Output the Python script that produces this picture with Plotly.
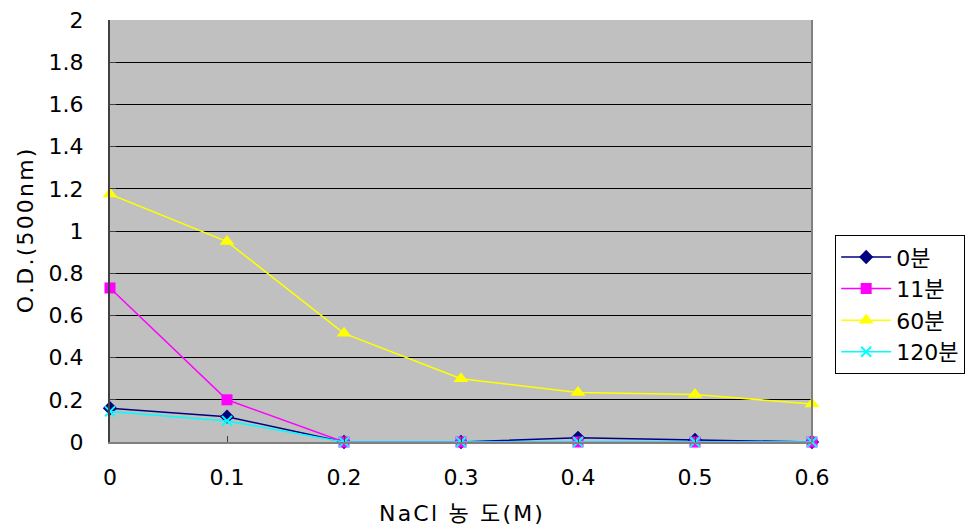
import plotly.graph_objects as go

# NaCl concentration (M) and optical density at 500 nm for each time point
nacl = [0, 0.1, 0.2, 0.3, 0.4, 0.5, 0.6]
x_tick_labels = ["0", "0.1", "0.2", "0.3", "0.4", "0.5", "0.6"]
od_0min = [0.16, 0.12, 0.0, 0.0, 0.02, 0.01, 0.0]
od_11min = [0.73, 0.20, 0.0, 0.0, 0.0, 0.0, 0.0]
od_60min = [1.175, 0.95, 0.515, 0.30, 0.235, 0.225, 0.18]
od_120min = [0.145, 0.10, 0.0, 0.0, 0.0, 0.0, 0.0]
y_ticks = [0, 0.2, 0.4, 0.6, 0.8, 1, 1.2, 1.4, 1.6, 1.8, 2]
y_tick_labels = ["0", "0.2", "0.4", "0.6", "0.8", "1", "1.2", "1.4", "1.6", "1.8", "2"]

FONT = "DejaVu Sans, Noto Sans CJK KR"
FS = 22
HS = "\u200a"  # hair space for slightly looser title lettering


def spaced(text):
    return HS.join(text)


series = [
    ("0분", od_0min, "#000080", dict(symbol="diamond", size=11)),
    ("11분", od_11min, "#FF00FF", dict(symbol="square", size=11)),
    ("60분", od_60min, "#FFFF00", dict(symbol="triangle-up", size=13)),
    ("120분", od_120min, "#00FFFF", dict(symbol="x-thin", size=10,
                                         line=dict(width=2, color="#00FFFF"))),
]

fig = go.Figure()
for name, vals, color, marker in series:
    m = dict(color=color, **marker)
    fig.add_trace(go.Scatter(
        x=nacl, y=vals, name=name, mode="lines+markers",
        legendgroup=name,
        line=dict(color=color, width=1.5),
        marker=m, cliponaxis=False,
    ))

fig.update_layout(
    width=977, height=526,
    margin=dict(l=110, r=165, t=20, b=84, autoexpand=False),
    paper_bgcolor="white",
    plot_bgcolor="#C0C0C0",
    font=dict(family=FONT, size=FS, color="#000000"),
    showlegend=True,
    legend=dict(
        x=1.033, y=0.49, xanchor="left", yanchor="top",
        bgcolor="white", bordercolor="#000000", borderwidth=1,
        font=dict(family=FONT, size=FS),
        tracegroupgap=0, itemwidth=50,
    ),
    xaxis=dict(
        range=[0, 0.6], tickvals=nacl, ticktext=x_tick_labels,
        automargin=False,
        showgrid=False, zeroline=False,
        showline=True, linecolor="#808080", linewidth=2,
        ticks="inside", ticklen=6, tickcolor="#404040",
        mirror=False,
        title=dict(text=spaced("NaCl 농 도(M)"), font=dict(family=FONT, size=FS), standoff=16),
        tickfont=dict(family=FONT, size=FS),
        ticklabelstandoff=15,
    ),
    yaxis=dict(
        range=[0, 2], tickvals=y_ticks, ticktext=y_tick_labels,
        automargin=False,
        showgrid=True, gridcolor="#000000", gridwidth=1,
        zeroline=False,
        showline=True, linecolor="#404040", linewidth=2,
        ticks="inside", ticklen=6, tickcolor="#404040",
        title=dict(text=spaced("O.D.(500nm)"), font=dict(family=FONT, size=FS), standoff=9),
        tickfont=dict(family=FONT, size=FS),
        ticklabelstandoff=20,
    ),
)

# right-hand border of the plot area
fig.add_shape(type="line", xref="paper", yref="paper", x0=1, x1=1, y0=0, y1=1,
              line=dict(color="#808080", width=2))

fig.write_html("out.html")
